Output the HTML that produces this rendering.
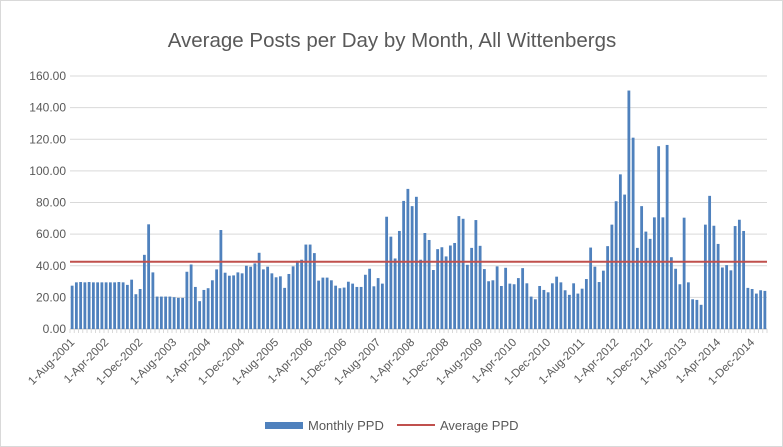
<!DOCTYPE html>
<html><head><meta charset="utf-8"><style>
body{margin:0;background:#fff;}
svg{display:block;font-family:"Liberation Sans",Calibri,sans-serif;}
</style></head><body>
<svg id="chart" width="783" height="447" viewBox="0 0 783 447">
<rect x="0.5" y="0.5" width="782" height="446" fill="#fff" stroke="#d9d9d9"/>
<text x="392" y="47" text-anchor="middle" font-size="20.5" fill="#595959">Average Posts per Day by Month, All Wittenbergs</text>
<g id="grid"></g><g id="bars"></g><g id="xaxis"></g><g id="avg"></g>
<g>
<rect x="265" y="422" width="38" height="7" fill="#4f81bd"/>
<text x="308" y="430" font-size="13" fill="#595959">Monthly PPD</text>
<line x1="397" y1="425" x2="435" y2="425" stroke="#c0504d" stroke-width="2"/>
<text x="440" y="430" font-size="13" fill="#595959">Average PPD</text>
</g>
</svg>
<script>
const monthlyPPD=[27.4,29.5,29.7,29.5,29.7,29.5,29.5,29.5,29.5,29.5,29.5,29.7,29.5,27.9,31.2,22.0,25.3,46.9,66.2,35.8,
20.5,20.5,20.5,20.5,20.1,19.7,19.7,36.2,40.8,26.6,17.6,24.7,25.8,30.8,37.7,62.6,35.6,33.7,33.9,35.8,
35.2,40.0,39.4,41.5,48.2,37.7,39.4,35.2,32.7,33.3,26.0,34.8,39.6,43.1,43.8,53.4,53.4,48.0,30.6,32.5,
32.5,30.8,27.4,25.8,26.2,29.9,28.7,26.6,26.6,34.3,38.1,27.0,32.2,28.7,71.0,58.4,44.6,62.0,81.0,88.6,
77.7,83.6,43.8,60.7,56.3,37.3,50.5,51.7,45.9,52.8,54.4,71.4,69.7,40.6,51.3,68.9,52.6,37.9,30.2,30.8,
39.6,27.2,38.7,28.7,28.3,32.2,38.5,28.9,20.5,18.8,27.2,24.7,23.2,28.9,33.1,29.5,24.5,21.6,28.9,22.4,
25.5,31.6,51.5,39.4,29.7,36.9,52.4,66.0,80.8,97.8,85.0,150.8,121.0,51.3,77.7,61.6,57.0,70.6,115.6,70.6,
116.4,45.4,38.1,28.3,70.4,29.5,18.8,18.4,15.3,66.0,84.2,65.3,53.8,38.9,40.4,37.1,65.1,69.1,62.0,26.0,
25.3,22.4,24.5,24.1];
const averagePPD=42.5;
const yTicks=[0,20,40,60,80,100,120,140,160];
const monthNames=["Jan","Feb","Mar","Apr","May","Jun","Jul","Aug","Sep","Oct","Nov","Dec"];
const startYear=2001,startMonth=7;
const X0=70,X1=767,Y0=329,Y1=76,YMAX=160;
const NS="http://www.w3.org/2000/svg";
const n=monthlyPPD.length,slot=(X1-X0)/n;
const y=v=>Y0-(v/YMAX)*(Y0-Y1);
const xc=i=>X0+slot*(i+0.5);
function mk(t,a,p){const e=document.createElementNS(NS,t);for(const k in a)e.setAttribute(k,a[k]);p.appendChild(e);return e;}
const grid=document.getElementById('grid');
yTicks.forEach(t=>{
 const l=mk('line',{x1:X0,x2:X1,y1:y(t),y2:y(t),stroke:t===0?'#bfbfbf':'#d9d9d9','stroke-width':1},grid);
 
 
 const tx=mk('text',{x:66,y:y(t)+4,'text-anchor':'end','font-size':12,fill:'#595959'},grid);
 tx.textContent=t.toFixed(2);
 
 
});
const bars=document.getElementById('bars');
monthlyPPD.forEach((v,i)=>{
 const r=mk('rect',{x:xc(i)-1.4,y:y(v),width:2.8,height:Y0-y(v),fill:'#4f81bd'},bars);
 
 
});
const xa=document.getElementById('xaxis');
for(let i=0;i<=n;i++){
 const tx=X0+slot*i;
 const tk=mk('line',{x1:tx,x2:tx,y1:Y0,y2:Y0+4,stroke:'#d9d9d9'},xa);
 
 
}
for(let i=0;i<n;i+=8){
 const m=(startMonth+i)%12,yr=startYear+Math.floor((startMonth+i)/12);
 const px=xc(i)+3,py=343;
 const t=mk('text',{x:px,y:py,'text-anchor':'end','font-size':11.5,fill:'#595959',transform:`rotate(-45 ${px} ${py})`},xa);
 t.textContent='1-'+monthNames[m]+'-'+yr;
 
 
}
const al=mk('line',{x1:X0,x2:X1,y1:y(averagePPD),y2:y(averagePPD),stroke:'#c0504d','stroke-width':2},document.getElementById('avg'));


</script>
</body></html>
